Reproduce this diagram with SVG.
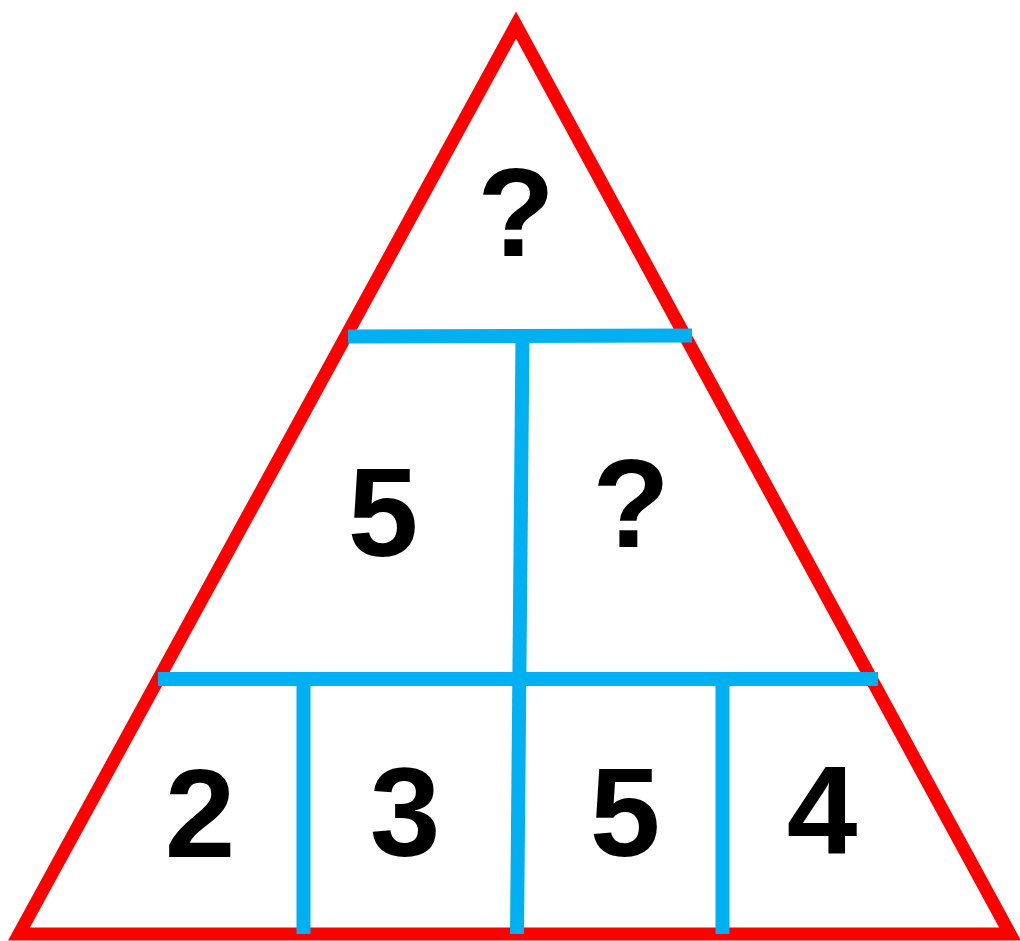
<svg xmlns="http://www.w3.org/2000/svg" width="1020" height="941" viewBox="0 0 1020 941">
<style>
.tri{fill:none;stroke:#FF0000;stroke-width:13;stroke-linejoin:miter;stroke-miterlimit:10}
.bl{stroke:#00B0F0;stroke-width:14;stroke-linecap:butt;fill:none}
.t{font-family:"Liberation Sans",Arial,sans-serif;font-weight:bold;font-size:127px;fill:#000;text-anchor:middle}
</style>
<g id="triangle"><path class="tri" d="M516 25 L19 934 L1010 934 Z"/></g>
<g id="connectors">
<line class="bl" x1="348" y1="336.5" x2="692" y2="335.5"/>
<line class="bl" x1="522.5" y1="336" x2="517" y2="934"/>
<line class="bl" x1="158" y1="679" x2="878" y2="679"/>
<line class="bl" x1="303.5" y1="679" x2="303.5" y2="934"/>
<line class="bl" x1="722.5" y1="679" x2="722.5" y2="934"/>
</g>
<g id="top"><text class="t" x="516" y="256">?</text></g>
<g id="mid-left"><text class="t" x="383" y="556">5</text></g>
<g id="mid-right"><text class="t" x="631" y="547">?</text></g>
<g id="b1"><text class="t" x="200" y="857">2</text></g>
<g id="b2"><text class="t" x="405" y="856">3</text></g>
<g id="b3"><text class="t" x="625" y="856">5</text></g>
<g id="b4"><text class="t" x="822" y="854">4</text></g>
</svg>
